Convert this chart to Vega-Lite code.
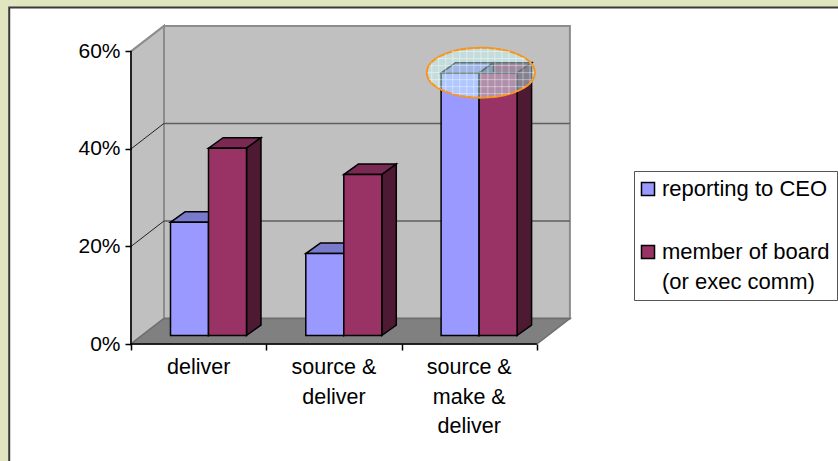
{
  "$schema": "https://vega.github.io/schema/vega-lite/v6.json",
  "width": 440,
  "height": 318,
  "autosize": {"type": "none"},
  "padding": {"left": 131, "top": 26, "right": 267, "bottom": 117},
  "background": "#E1E5C0",
  "config": {"view": {"stroke": null}, "font": "Liberation Sans", "style": {"guide-label": {"lineHeight": 30}}},
  "datasets": {
    "bars": [
      {"category": "deliver", "series": "reporting to CEO", "value": 23.2},
      {"category": "deliver", "series": "member of board (or exec comm)", "value": 38.4},
      {"category": "source &\ndeliver", "series": "reporting to CEO", "value": 16.8},
      {"category": "source &\ndeliver", "series": "member of board (or exec comm)", "value": 33},
      {"category": "source &\nmake &\ndeliver", "series": "reporting to CEO", "value": 53.8},
      {"category": "source &\nmake &\ndeliver", "series": "member of board (or exec comm)", "value": 53.8}
    ],
    "depth": [{"d": 0}, {"d": 1}],
    "levels": [
      {"level": 20, "d": 0}, {"level": 20, "d": 1},
      {"level": 40, "d": 0}, {"level": 40, "d": 1}
    ],
    "frame": [{"x0": -0.9, "x1": 5.3, "y0": -26, "y1": 69}],
    "wall": [{"x0": 0.2439, "x1": 3.2439, "y0": 5.23, "y1": 65.2}],
    "axisLines": [{"x0": 0, "x1": 0, "y0": 0, "y1": 60}, {"x0": 0, "x1": 3, "y0": 0, "y1": 0}]
  },
  "layer": [
    {
      "description": "white panel with its dark edge",
      "data": {"name": "frame"},
      "mark": {"type": "rect", "fill": "white", "stroke": "#3a3a3a", "strokeWidth": 2},
      "encoding": {
        "x": {"field": "x0", "type": "quantitative", "scale": {"domain": [0, 3.252], "nice": false, "zero": false}, "axis": {"values": [0, 1, 2, 3], "labels": false, "title": null, "grid": false, "domain": false, "tickSize": 6, "tickColor": "black", "tickWidth": 1.5, "zindex": 1}},
        "x2": {"field": "x1"},
        "y": {"field": "y1", "type": "quantitative", "scale": {"domain": [0, 65.2], "nice": false, "zero": false}, "axis": {"values": [0, 20, 40, 60], "labelExpr": "datum.value + '%'", "labelFontSize": 21, "labelColor": "black", "labelPadding": 5, "title": null, "grid": false, "domain": false, "tickSize": 6, "tickColor": "black", "tickWidth": 1.5, "zindex": 1}},
        "y2": {"field": "y0"}
      }
    },
    {
      "description": "back wall",
      "data": {"name": "wall"},
      "mark": {"type": "rect", "fill": "#C0C0C0", "stroke": "#8C8C8C", "strokeWidth": 2},
      "encoding": {
        "x": {"field": "x0", "type": "quantitative"},
        "x2": {"field": "x1"},
        "y": {"field": "y0", "type": "quantitative"},
        "y2": {"field": "y1"}
      }
    },
    {
      "description": "side wall",
      "data": {"name": "depth"},
      "transform": [
        {"calculate": "datum.d * 0.2439", "as": "px"},
        {"calculate": "datum.d * 5.23", "as": "lo"},
        {"calculate": "60 + datum.d * 5.23", "as": "hi"}
      ],
      "mark": {"type": "area", "fill": "#C0C0C0", "stroke": "#8C8C8C", "strokeWidth": 2},
      "encoding": {
        "x": {"field": "px", "type": "quantitative"},
        "y": {"field": "lo", "type": "quantitative"},
        "y2": {"field": "hi"}
      }
    },
    {
      "description": "floor",
      "data": {"name": "depth"},
      "transform": [
        {"calculate": "datum.d * 0.2439", "as": "a"},
        {"calculate": "3 + datum.d * 0.2439", "as": "b"},
        {"calculate": "datum.d * 5.23", "as": "h"}
      ],
      "mark": {"type": "area", "orient": "horizontal", "fill": "#808080", "stroke": "#6E6E6E", "strokeWidth": 1.5},
      "encoding": {
        "x": {"field": "a", "type": "quantitative"},
        "x2": {"field": "b"},
        "y": {"field": "h", "type": "quantitative"}
      }
    },
    {
      "description": "gridlines on the back wall",
      "data": {"name": "levels"},
      "transform": [
        {"filter": "datum.d === 0"},
        {"calculate": "datum.level + 5.23", "as": "h"},
        {"calculate": "0.2439", "as": "x0"},
        {"calculate": "3.2439", "as": "x1"}
      ],
      "mark": {"type": "rule", "color": "#5E5E5E", "strokeWidth": 1.5},
      "encoding": {
        "x": {"field": "x0", "type": "quantitative"},
        "x2": {"field": "x1"},
        "y": {"field": "h", "type": "quantitative"}
      }
    },
    {
      "description": "gridlines on the side wall",
      "data": {"name": "levels"},
      "transform": [
        {"calculate": "datum.d * 0.2439", "as": "px"},
        {"calculate": "datum.level + datum.d * 5.23", "as": "h"}
      ],
      "mark": {"type": "line", "color": "#222222", "strokeWidth": 1},
      "encoding": {
        "x": {"field": "px", "type": "quantitative"},
        "y": {"field": "h", "type": "quantitative"},
        "detail": {"field": "level"}
      }
    },
    {
      "description": "left and bottom axis lines",
      "data": {"name": "axisLines"},
      "mark": {"type": "rule", "color": "black", "strokeWidth": 1.5},
      "encoding": {
        "x": {"field": "x0", "type": "quantitative"},
        "x2": {"field": "x1"},
        "y": {"field": "y0", "type": "quantitative"},
        "y2": {"field": "y1"}
      }
    },
    {
      "description": "columns, highlight and labels",
      "data": {"name": "bars"},
      "transform": [
        {"calculate": "indexof(['deliver', 'source &\\ndeliver', 'source &\\nmake &\\ndeliver'], datum.category)", "as": "group"},
        {"calculate": "datum.group + 0.2919 + (datum.series === 'reporting to CEO' ? 0 : 0.2809)", "as": "left"},
        {"calculate": "datum.left + 0.2809", "as": "right"},
        {"calculate": "datum.value + 1.74", "as": "top"},
        {"calculate": "1.74", "as": "base"},
        {"calculate": "[0, 1]", "as": "d"},
        {"flatten": ["d"]}
      ],
      "resolve": {"scale": {"color": "independent"}},
      "layer": [
        {
          "description": "top faces of the columns",
          "transform": [
            {"calculate": "datum.left + datum.d * 0.107", "as": "a"},
            {"calculate": "datum.right + datum.d * 0.107", "as": "b"},
            {"calculate": "datum.top + datum.d * 2.15", "as": "h"}
          ],
          "mark": {"type": "area", "orient": "horizontal", "stroke": "black", "strokeWidth": 1.5},
          "encoding": {
            "x": {"field": "a", "type": "quantitative"},
            "x2": {"field": "b"},
            "y": {"field": "h", "type": "quantitative"},
            "detail": {"field": "left"},
            "color": {"field": "series", "type": "nominal", "legend": null, "scale": {"domain": ["reporting to CEO", "member of board (or exec comm)"], "range": ["#7A7ACC", "#7A2952"]}}
          }
        },
        {
          "description": "side faces of the columns",
          "transform": [
            {"calculate": "datum.right + datum.d * 0.107", "as": "a"},
            {"calculate": "datum.base + datum.d * 2.15", "as": "lo"},
            {"calculate": "datum.top + datum.d * 2.15", "as": "hi"}
          ],
          "mark": {"type": "area", "stroke": "black", "strokeWidth": 1.5},
          "encoding": {
            "x": {"field": "a", "type": "quantitative"},
            "y": {"field": "lo", "type": "quantitative"},
            "y2": {"field": "hi"},
            "detail": {"field": "left"},
            "color": {"field": "series", "type": "nominal", "legend": null, "scale": {"domain": ["reporting to CEO", "member of board (or exec comm)"], "range": ["#4D4D80", "#4D1933"]}}
          }
        },
        {
          "description": "front faces of the columns, which carry the legend",
          "transform": [{"filter": "datum.d === 0"}],
          "mark": {"type": "rect", "stroke": "black", "strokeWidth": 1.5},
          "encoding": {
            "x": {"field": "left", "type": "quantitative"},
            "x2": {"field": "right"},
            "y": {"field": "base", "type": "quantitative"},
            "y2": {"field": "top"},
            "color": {
              "field": "series",
              "type": "nominal",
              "scale": {"domain": ["reporting to CEO", "member of board (or exec comm)"], "range": ["#9999FF", "#993366"]},
              "legend": {
                "title": null,
                "orient": "none",
                "legendX": 503,
                "legendY": 145,
                "fillColor": "white",
                "strokeColor": "#555555",
                "padding": 7,
                "symbolType": "square",
                "symbolSize": 170,
                "symbolStrokeColor": "black",
                "symbolStrokeWidth": 1.5,
                "symbolOffset": -4,
                "labelFontSize": 22,
                "labelColor": "black",
                "labelLimit": 300,
                "labelOffset": 3,
                "rowPadding": 41,
                "labelExpr": "datum.label === 'reporting to CEO' ? datum.label : ['member of board', '(or exec comm)']"
              }
            }
          }
        },
        {
          "description": "category labels under the groups",
          "transform": [
            {"filter": "datum.d === 0 && datum.series === 'reporting to CEO'"},
            {"calculate": "datum.group + 0.5", "as": "mid"},
            {"calculate": "0", "as": "floor"}
          ],
          "mark": {"type": "text", "baseline": "top", "align": "center", "fontSize": 21.5, "color": "black", "lineBreak": "\n", "lineHeight": 29.5, "dy": 13},
          "encoding": {
            "x": {"field": "mid", "type": "quantitative"},
            "y": {"field": "floor", "type": "quantitative"},
            "text": {"field": "category"}
          }
        },
        {
          "description": "highlight over the tallest pair of columns",
          "transform": [
            {"filter": "datum.d === 0 && datum.group === 2 && datum.series !== 'reporting to CEO'"},
            {"calculate": "datum.left + 0.013", "as": "cx"},
            {"calculate": "datum.top + 0.1", "as": "cy"}
          ],
          "mark": {"type": "point", "shape": "M-1,0A1,0.463 0 1 1 1,0A1,0.463 0 1 1 -1,0Z", "size": 11664, "filled": true, "fill": "#CCFFFF", "fillOpacity": 0.45, "stroke": "#F7941D", "strokeWidth": 2, "strokeOpacity": 1, "opacity": 1},
          "encoding": {
            "x": {"field": "cx", "type": "quantitative"},
            "y": {"field": "cy", "type": "quantitative"}
          }
        },
        {
          "description": "mesh inside the highlight",
          "transform": [
            {"filter": "datum.d === 0 && datum.group === 2 && datum.series !== 'reporting to CEO'"},
            {"calculate": "datum.left + 0.013", "as": "cx"},
            {"calculate": "datum.top + 0.1", "as": "cy"}
          ],
          "mark": {"type": "point", "shape": "M-0.99,0H0.99M-0.96,0.13H0.96M-0.96,-0.13H0.96M-0.827,0.26H0.827M-0.827,-0.26H0.827M-0.539,0.39H0.539M-0.539,-0.39H0.539M0,-0.46V0.46M0.13,-0.459V0.459M-0.13,-0.459V0.459M0.26,-0.447V0.447M-0.26,-0.447V0.447M0.39,-0.426V0.426M-0.39,-0.426V0.426M0.52,-0.395V0.395M-0.52,-0.395V0.395M0.65,-0.352V0.352M-0.65,-0.352V0.352M0.78,-0.29V0.29M-0.78,-0.29V0.29M0.91,-0.192V0.192M-0.91,-0.192V0.192", "size": 11664, "filled": false, "stroke": "white", "strokeWidth": 1, "strokeOpacity": 0.4, "opacity": 1},
          "encoding": {
            "x": {"field": "cx", "type": "quantitative"},
            "y": {"field": "cy", "type": "quantitative"}
          }
        }
      ]
    }
  ]
}
